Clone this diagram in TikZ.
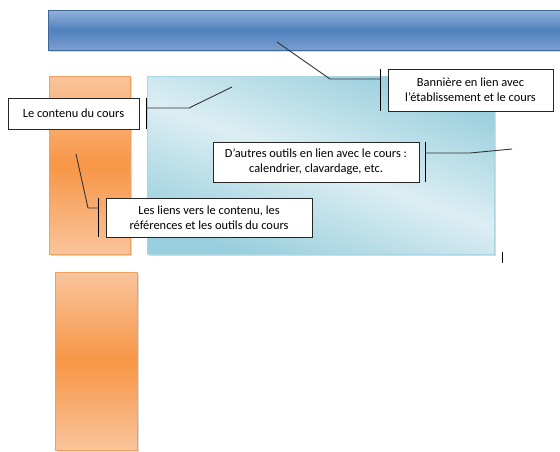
\documentclass[tikz,border=0pt]{standalone}
\usepackage{fontspec}
\setmainfont{Carlito}
\usetikzlibrary{shadows}
\definecolor{bannerTop}{HTML}{93B2DC}
\definecolor{bannerMid}{HTML}{4F81BD}
\definecolor{bannerBot}{HTML}{7C9FD0}
\definecolor{orLight}{HTML}{F9C49C}
\definecolor{orMid}{HTML}{F79646}
\definecolor{orBorder}{HTML}{F0A060}
\definecolor{cyDark}{HTML}{98CEDD}
\definecolor{cyLight}{HTML}{DCEEF3}
\definecolor{cyBorder}{HTML}{A8D6E2}
\definecolor{leader}{HTML}{333333}
\tikzset{
  shapeshadow/.style={drop shadow={shadow xshift=1.5pt,shadow yshift=-2pt,opacity=0.25,fill=black!60}},
  bannerbox/.style={shapeshadow,top color=bannerTop,bottom color=bannerBot,middle color=bannerMid,draw=bannerMid!80!black,line width=0.4pt},
  navbox/.style={shapeshadow,top color=orLight,bottom color=orLight,middle color=orMid,draw=orBorder,line width=0.8pt},
  contentbox/.style={shapeshadow,top color=cyDark,bottom color=cyDark,middle color=cyLight,shading angle=-20,draw=cyBorder,line width=0.6pt},
  labelbox/.style={draw=black!85,fill=white,line width=0.8pt,inner sep=0pt,align=center,font=\fontsize{12.4}{14.7}\selectfont},
  accentbar/.style={draw=black,line width=1pt},
  leaderline/.style={draw=leader,line width=0.9pt}
}
\begin{document}
\begin{tikzpicture}[x=1pt,y=-1pt]
\useasboundingbox (0,0) rectangle (560,451);
% shapes
\path[bannerbox] (48,10) rectangle (566,50);
\path[navbox] (49,76) rectangle (130,254);
\path[contentbox] (147,76) rectangle (494,254);
\path[navbox] (55,272) rectangle (137,450);
% labels
\node[labelbox,minimum width=131pt,minimum height=31pt] (contenu) at (73.5,113.5) {Le contenu du cours};
\node[labelbox,minimum width=165pt,minimum height=42pt] (banniere) at (470.5,90) {Bannière en lien avec\\ l’établissement et le cours};
\node[labelbox,minimum width=206pt,minimum height=40pt] (outils) at (316,162) {D’autres outils en lien avec le cours :\\ calendrier, clavardage, etc.};
\node[labelbox,minimum width=206pt,minimum height=39pt] (liens) at (209,217.5) {Les liens vers le contenu, les\\ références et les outils du cours};
% callout coordinates
\coordinate (cA1) at ([xshift=7pt]contenu.north east);
\coordinate (cA2) at ([xshift=7pt]contenu.south east);
\coordinate (cA) at (146,108);
\coordinate (cB) at (189,108);
\coordinate (cC) at (232,87);
\coordinate (bA1) at ([xshift=-7pt]banniere.north west);
\coordinate (bA2) at ([xshift=-7pt]banniere.south west);
\coordinate (bA) at (381,79);
\coordinate (bB) at (330,79);
\coordinate (bC) at (277,42);
\coordinate (oA1) at ([xshift=6pt]outils.north east);
\coordinate (oA2) at ([xshift=6pt]outils.south east);
\coordinate (oA) at (425,153);
\coordinate (oB) at (470,153);
\coordinate (oC) at (512,149);
\coordinate (lA1) at ([xshift=-7pt]liens.north west);
\coordinate (lA2) at ([xshift=-7pt]liens.south west);
\coordinate (lA) at (99,208);
\coordinate (lB) at (88,208);
\coordinate (lC) at (76,154);
\coordinate (s1) at (502,252);
\coordinate (s2) at (502,263);
% accent bars
\draw[accentbar] (cA1) -- (cA2);
\draw[accentbar] (bA1) -- (bA2);
\draw[accentbar] (oA1) -- (oA2);
\draw[accentbar] (lA1) -- (lA2);
\draw[accentbar,line width=0.8pt] (s1) -- (s2);
% leader lines
\draw[leaderline] (cA) -- (cB) -- (cC);
\draw[leaderline] (bA) -- (bB) -- (bC);
\draw[leaderline] (oA) -- (oB) -- (oC);
\draw[leaderline] (lA) -- (lB) -- (lC);
\end{tikzpicture}
\end{document}
